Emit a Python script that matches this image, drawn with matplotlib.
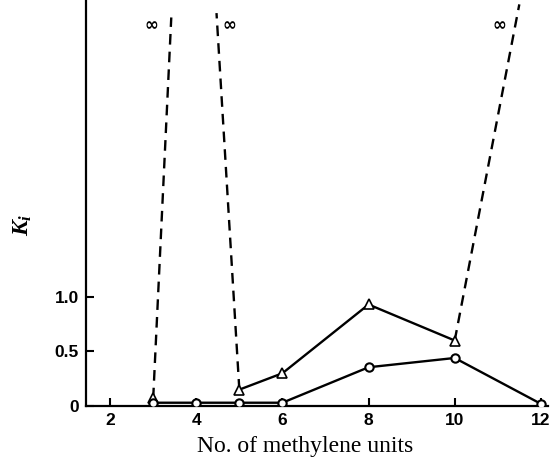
import matplotlib
matplotlib.use("Agg")
import matplotlib.pyplot as plt

plt.rcParams["mathtext.fontset"] = "custom"
plt.rcParams["mathtext.it"] = "Liberation Serif:italic:bold"
plt.rcParams["mathtext.rm"] = "Liberation Serif:bold"

# Data
circ_x = [3, 4, 5, 6, 8, 10, 12]
circ_y = [0.03, 0.03, 0.03, 0.03, 0.355, 0.44, 0.02]
tri_x = [5, 6, 8, 10]
tri_y = [0.15, 0.30, 0.93, 0.60]
tri3_x = [3]
tri3_y = [0.07]
# dashed "infinity" lines: start point -> end near top
dash1_x = [3, 3.42]
dash1_y = [0.07, 3.56]
dash2_x = [5, 4.47]
dash2_y = [0.15, 3.60]
dash3_x = [10, 11.5]
dash3_y = [0.60, 3.68]
inf_x = [2.97, 4.78, 11.05]
inf_y = [3.49, 3.49, 3.49]
xticks = [2, 4, 6, 8, 10, 12]
yticks = [0, 0.5, 1.0]
yticklabels = ["0", "0.5", "1.0"]

fig = plt.figure(figsize=(5.53, 4.57), dpi=100)
ax = fig.add_axes([0.1555, 0.1116, 0.835, 0.8884])

ax.plot(dash1_x, dash1_y, ls=(0, (4.5, 3)), color="black", lw=1.7)
ax.plot(dash2_x, dash2_y, ls=(0, (4.5, 3)), color="black", lw=1.7)
ax.plot(dash3_x, dash3_y, ls=(0, (4.5, 3)), color="black", lw=1.7)
ax.plot(circ_x, circ_y, "-o", color="black", lw=1.7, ms=6,
        markerfacecolor="white", markeredgewidth=1.5, zorder=3)
ax.plot(tri_x, tri_y, "-^", color="black", lw=1.7, ms=7,
        markerfacecolor="white", markeredgewidth=1.2, zorder=3)
ax.plot(tri3_x, tri3_y, "^", color="black", ms=7,
        markerfacecolor="white", markeredgewidth=1.2, zorder=2)

for x, y in zip(inf_x, inf_y):
    ax.text(x, y, "∞", ha="center", va="center", fontsize=12,
            fontweight="bold", family="DejaVu Sans")

ax.set_xlim(1.44, 12.16)
ax.set_ylim(0, 3.72)
ax.spines["top"].set_visible(False)
ax.spines["right"].set_visible(False)
ax.spines["left"].set_linewidth(1.6)
ax.spines["bottom"].set_linewidth(1.6)
ax.set_xticks(xticks)
ax.set_yticks(yticks)
ax.set_yticklabels(yticklabels)
ax.tick_params(direction="in", length=6, width=1.5, labelsize=12.5, pad=5)
for lab in ax.get_xticklabels() + ax.get_yticklabels():
    lab.set_fontweight("bold")
    lab.set_family("Liberation Sans")

fig.text(305 / 553, 5 / 457, "No. of methylene units", family="Liberation Serif",
         fontsize=17, ha="center", va="baseline")
fig.text(22 / 553, 1 - 225 / 457, "$K_i$", rotation=90, fontsize=17,
         ha="center", va="center")
fig.savefig("out.png", dpi=100)
